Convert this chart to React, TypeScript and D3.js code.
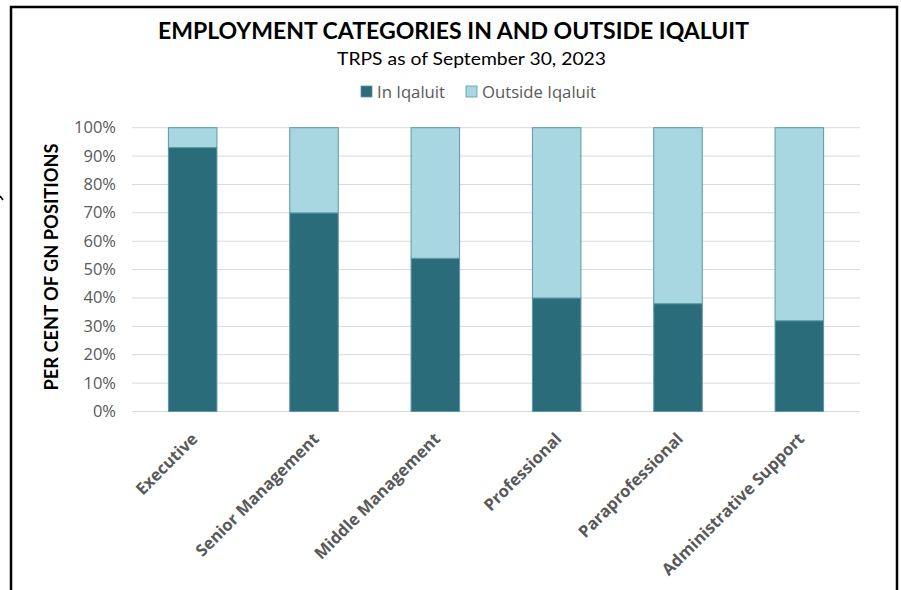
import React from "react";
import * as d3 from "d3";

const categories = [
  "Executive",
  "Senior Management",
  "Middle Management",
  "Professional",
  "Paraprofessional",
  "Administrative Support",
];
const inIqaluit = [93, 70, 54, 40, 38, 32];
const outsideIqaluit = [7, 30, 46, 60, 62, 68];
const yTicks = [0, 10, 20, 30, 40, 50, 60, 70, 80, 90, 100];
const seriesNames = ["In Iqaluit", "Outside Iqaluit"];

const W = 901;
const H = 590;
const DARK = "#2A6C7A";
const LIGHT = "#A8D7E2";
const STROKE = "#5B98A6";
const GRAY = "#595959";
const FONT = "Lato, 'Open Sans', sans-serif";
const FONT2 = "'Open Sans', sans-serif";

export default function App() {
  const x = d3.scaleBand<string>().domain(categories).range([132, 860]).paddingInner(0.6).paddingOuter(0.3);
  const y = d3.scaleLinear().domain([0, 100]).range([411.5, 127.7]);
  const stackData = categories.map((c, i) => ({ cat: c, a: inIqaluit[i], b: outsideIqaluit[i] }));
  const stack = d3.stack<any>().keys(["a", "b"])(stackData);
  const fills = [DARK, LIGHT];

  return (
    <svg width={W} height={H} style={{ position: "fixed", left: 0, top: 0, background: "#fff" }}>
      <rect x={0} y={0} width={W} height={H} fill="#fff" />
      {/* frame */}
      <path d={`M11,${H} L11,7 L897,7 L897,${H}`} fill="none" stroke="#000" strokeWidth={2.5} />
      <line x1={0} y1={196} x2={3} y2={200} stroke="#000" strokeWidth={1.5} />

      <text x={453.5} y={39} textAnchor="middle" fontFamily={FONT} fontWeight="bold" fontSize={22} fill="#000" textLength={591} lengthAdjust="spacingAndGlyphs">
        EMPLOYMENT CATEGORIES IN AND OUTSIDE IQALUIT
      </text>
      <text x={471.5} y={65} textAnchor="middle" fontFamily={FONT} fontSize={17} fill="#000" textLength={269} lengthAdjust="spacingAndGlyphs">
        TRPS as of September 30, 2023
      </text>

      {/* legend */}
      <rect x={361} y={86} width={11} height={11} fill={DARK} stroke={STROKE} strokeWidth={0.8} />
      <text x={377} y={97.5} fontFamily={FONT2} fontSize={16} fill={GRAY} textLength={68} lengthAdjust="spacingAndGlyphs">{seriesNames[0]}</text>
      <rect x={466} y={86} width={11} height={11} fill={LIGHT} stroke={STROKE} strokeWidth={0.8} />
      <text x={482} y={97.5} fontFamily={FONT2} fontSize={16} fill={GRAY} textLength={114} lengthAdjust="spacingAndGlyphs">{seriesNames[1]}</text>

      {/* grid */}
      {yTicks.map((t) => (
        <g key={t}>
          <line x1={132} x2={860} y1={y(t)} y2={y(t)} stroke="#D9D9D9" strokeWidth={1} />
          <text x={116} y={y(t) + 5.5} textAnchor="end" fontFamily={FONT2} fontSize={16.5} fill={GRAY}>
            {t}%
          </text>
        </g>
      ))}

      {/* bars */}
      {stack.map((s, si) =>
        s.map((d, i) => (
          <rect
            key={`${si}-${i}`}
            x={x(categories[i])!}
            y={y(d[1])}
            width={x.bandwidth()}
            height={y(d[0]) - y(d[1])}
            fill={fills[si]}
            stroke={STROKE}
            strokeWidth={1}
          />
        ))
      )}

      {/* y title */}
      <text
        transform={`translate(58,267) rotate(-90)`}
        textAnchor="middle"
        fontFamily={FONT}
        fontWeight="bold"
        fontSize={18}
        fill="#000"
        textLength={247}
        lengthAdjust="spacingAndGlyphs"
      >
        PER CENT OF GN POSITIONS
      </text>

      {/* x labels */}
      {categories.map((c) => {
        const cx = x(c)! + x.bandwidth() / 2;
        return (
          <text
            key={c}
            transform={`translate(${cx + 6},${440}) rotate(-45)`}
            textAnchor="end"
            fontFamily={FONT2}
            fontWeight="bold"
            fontSize={16.5}
            fill={GRAY}
          >
            {c}
          </text>
        );
      })}
    </svg>
  );
}
